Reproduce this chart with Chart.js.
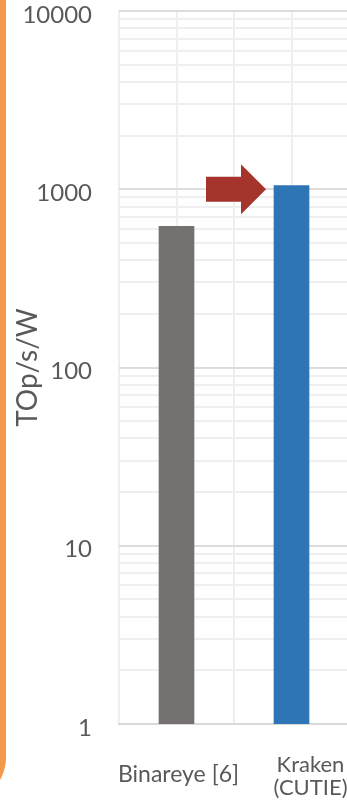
<!DOCTYPE html>
<html>
<head>
<meta charset="utf-8">
<script src="https://cdn.jsdelivr.net/npm/chart.js@4"></script>
<style>
  html,body{margin:0;padding:0;background:#fff;}
  #wrap{position:relative;width:347px;height:801px;overflow:hidden;background:#fff;}
  #chart{position:absolute;left:0;top:0;}
  #frame{position:absolute;left:-100px;top:-60px;width:106px;height:864px;background:#f4994a;border-radius:47px;z-index:2;}
</style>
</head>
<body>
<div id="wrap">
  <canvas id="chart" width="360" height="801"></canvas>
  <div id="frame"></div>
</div>
<script>
// categories and values
const categories = [['Binareye [6]'], ['Kraken', '(CUTIE)']];
const topsPerWatt = [620, 1050];
const barColors = ['#767171', '#2e75b6'];
const yMin = 1, yMax = 10000;
const arrowTarget = 1000; // arrow points at the 1000 line, into the Kraken bar

const textColor = '#595959';

function isDecade(v){
  const l = Math.log10(v);
  return Math.abs(l - Math.round(l)) < 1e-9;
}
function isWholeStep(v){
  const m = v / Math.pow(10, Math.floor(Math.log10(v) + 1e-9));
  return Math.abs(m - Math.round(m)) < 1e-9;
}

// x labels drawn by hand, the Kraken one sits right of its bar like in the original
const xLabelsPlugin = {
  id: 'xLabels',
  afterDraw(chart){
    const ctx = chart.ctx, xs = chart.scales.x;
    ctx.save();
    ctx.fillStyle = textColor;
    ctx.textAlign = 'center';
    ctx.textBaseline = 'alphabetic';
    const nudge = [2, 19];
    const first = [58, 48];
    const size = [23, 22];
    categories.forEach((lines, i) => {
      ctx.font = size[i] + 'px Lato';
      const cx = xs.getPixelForValue(i) + nudge[i];
      lines.forEach((t, j) => ctx.fillText(t, cx, xs.top + first[i] + j * 23));
    });
    ctx.restore();
  }
};

// block arrow pointing at the Kraken bar
const arrowPlugin = {
  id: 'arrow',
  afterDatasetsDraw(chart){
    const ctx = chart.ctx, xs = chart.scales.x, ys = chart.scales.y;
    const tipX = xs.getPixelForValue(1) - 17.5 - 8;
    const tipY = ys.getPixelForValue(arrowTarget);
    const headLen = 25, headHalf = 25, shaftHalf = 12.5, shaftLen = 35;
    ctx.save();
    ctx.fillStyle = '#a5342c';
    ctx.beginPath();
    ctx.moveTo(tipX, tipY);
    ctx.lineTo(tipX - headLen, tipY - headHalf);
    ctx.lineTo(tipX - headLen, tipY - shaftHalf);
    ctx.lineTo(tipX - headLen - shaftLen, tipY - shaftHalf);
    ctx.lineTo(tipX - headLen - shaftLen, tipY + shaftHalf);
    ctx.lineTo(tipX - headLen, tipY + shaftHalf);
    ctx.lineTo(tipX - headLen, tipY + headHalf);
    ctx.closePath();
    ctx.fill();
    ctx.restore();
  }
};

new Chart(document.getElementById('chart'), {
  type: 'bar',
  data: {
    datasets: [{
      data: topsPerWatt.map((v, i) => ({x: i, y: v})),
      backgroundColor: barColors,
      borderWidth: 0,
      barThickness: 35
    }]
  },
  options: {
    responsive: false,
    animation: false,
    layout: {padding: {left: 0, right: 11, top: 11, bottom: 0}},
    plugins: {legend: {display: false}, tooltip: {enabled: false}},
    scales: {
      x: {
        type: 'linear',
        offset: false,
        min: -0.5, max: 1.5,
        ticks: {display: false, stepSize: 0.5},
        grid: {color: '#efefef', lineWidth: 2, drawTicks: false, offset: false},
        border: {display: true, color: '#d9d9d9', width: 2},
        afterFit(s){ s.height = 77; }
      },
      y: {
        type: 'logarithmic',
        min: yMin, max: yMax,
        ticks: {
          autoSkip: false,
          color: textColor,
          font: {family: 'Lato', size: 24, lineHeight: 1},
          padding: 27,
          labelOffset: 4,
          callback: v => isDecade(v) ? String(Math.round(v)) : ''
        },
        grid: {
          drawTicks: false,
          lineWidth: 2,
          color: c => {
            const v = c.tick ? c.tick.value : 0;
            if (!isWholeStep(v)) return 'rgba(0,0,0,0)';
            return isDecade(v) ? '#dcdcdc' : '#efefef';
          }
        },
        border: {display: false},
        title: {
          display: true,
          text: 'TOp/s/W',
          color: textColor,
          font: {family: 'Lato', size: 28},
          padding: {top: 11, bottom: 0}
        },
        afterFit(s){ s.width = 119; s.paddingTop = 0; s.paddingBottom = 0; }
      }
    }
  },
  plugins: [xLabelsPlugin, arrowPlugin]
});
</script>
</body>
</html>
